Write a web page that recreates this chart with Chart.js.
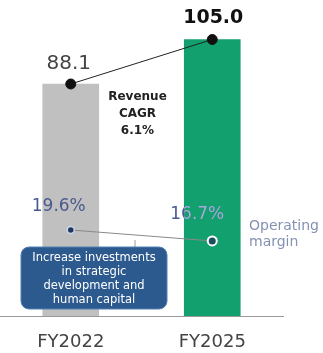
<!DOCTYPE html>
<html>
<head>
<meta charset="utf-8">
<script src="https://cdn.jsdelivr.net/npm/chart.js@4/dist/chart.umd.min.js"></script>
<style>
  html, body { margin: 0; padding: 0; background: #fff; }
  #wrap { width: 323px; height: 353px; position: relative; }
</style>
</head>
<body>
<div id="wrap"><canvas id="chart"></canvas></div>
<script>
const categories = ["FY2022", "FY2025"];
const revenue = [88.1, 105.0];
const operatingMargin = [19.6, 16.7];
const revenueLabels = ["88.1", "105.0"];
const marginLabels = ["19.6%", "16.7%"];
const cagrText = ["Revenue", "CAGR", "6.1%"];
const marginName = ["Operating", "margin"];
const noteText = ["Increase investments", "in strategic", "development and", "human capital"];

const FONT = '"DejaVu Sans", Verdana, sans-serif';

const annotations = {
  id: "annotations",
  afterDatasetsDraw(chart) {
    const { ctx, scales } = chart;
    const x = scales.x, y = scales.y, y1 = scales.y1;
    ctx.save();
    ctx.textAlign = "center";
    ctx.textBaseline = "middle";

    // revenue value labels
    ctx.fillStyle = "#444";
    ctx.font = "20px " + FONT;
    ctx.fillText(revenueLabels[0], x.getPixelForValue(0) - 2, y.getPixelForValue(revenue[0]) - 20);
    ctx.fillStyle = "#111";
    ctx.font = "bold 19px " + FONT;
    ctx.fillText(revenueLabels[1], x.getPixelForValue(1) + 1, y.getPixelForValue(revenue[1]) - 21);

    // CAGR note
    ctx.fillStyle = "#222";
    ctx.font = "bold 12px " + FONT;
    const cx = (x.getPixelForValue(0) + x.getPixelForValue(1)) / 2 - 4;
    cagrText.forEach((t, i) => ctx.fillText(t, cx, 97 + i * 17));

    // margin labels
    ctx.font = "17px " + FONT;
    ctx.fillStyle = "#4a5a8c";
    ctx.fillText(marginLabels[0], x.getPixelForValue(0) - 12, y1.getPixelForValue(operatingMargin[0]) - 23);
    const m2x = x.getPixelForValue(1) - 15, m2y = y1.getPixelForValue(operatingMargin[1]) - 26;
    ctx.fillText(marginLabels[1], m2x, m2y);
    // part of the label over the green bar is lighter
    const bar = chart.getDatasetMeta(0).data[1];
    ctx.save();
    ctx.beginPath();
    ctx.rect(bar.x - bar.width / 2, m2y - 15, bar.width, 30);
    ctx.clip();
    ctx.fillStyle = "#9fb2d6";
    ctx.fillText(marginLabels[1], m2x, m2y);
    ctx.restore();

    // series name
    ctx.textAlign = "left";
    ctx.font = "14px " + FONT;
    ctx.fillStyle = "#8391b3";
    marginName.forEach((t, i) => ctx.fillText(t, 249, 226 + i * 16));

    // connector + note box
    ctx.strokeStyle = "#9a9a9a";
    ctx.lineWidth = 1;
    ctx.beginPath();
    ctx.moveTo(135, 240);
    ctx.lineTo(135, 248);
    ctx.stroke();

    ctx.beginPath();
    ctx.roundRect(21, 247, 146, 62, 8);
    ctx.fillStyle = "#2d5a8e";
    ctx.fill();
    ctx.strokeStyle = "#5580b0";
    ctx.stroke();

    ctx.textAlign = "center";
    ctx.fillStyle = "#ffffff";
    ctx.font = "11.5px " + FONT;
    noteText.forEach((t, i) => ctx.fillText(t, 94, 258 + i * 14));
    ctx.restore();
  }
};

new Chart(document.getElementById("chart"), {
  data: {
    labels: categories,
    datasets: [
      {
        type: "bar",
        data: revenue,
        backgroundColor: ["#c0c0c0", "#12a06e"],
        barThickness: 56,
        yAxisID: "y",
        order: 3
      },
      {
        type: "line",
        data: revenue,
        borderColor: "#222",
        borderWidth: 1,
        pointRadius: 5,
        pointBackgroundColor: "#111",
        pointBorderColor: "#111",
        yAxisID: "y",
        order: 1
      },
      {
        type: "line",
        data: operatingMargin,
        borderColor: "#8a8a8a",
        borderWidth: 1,
        pointRadius: [3.5, 4.5],
        pointBorderWidth: [1.5, 2],
        pointBackgroundColor: ["#1f3563", "#1b4f5e"],
        pointBorderColor: ["#cdd6e6", "#ffffff"],
        yAxisID: "y1",
        order: 2,
        clip: false
      }
    ]
  },
  options: {
    responsive: true,
    maintainAspectRatio: false,
    animation: false,
    layout: { autoPadding: false, padding: { left: 0, right: 40, top: 0, bottom: 0 } },
    plugins: { legend: { display: false }, tooltip: { enabled: false } },
    scales: {
      x: {
        offset: true,
        grid: { display: false, drawTicks: false },
        border: { display: true, color: "#999", width: 1 },
        ticks: { color: "#444", padding: 16, font: { family: FONT, size: 18 } },
        afterFit: (scale) => { scale.height = 37; }
      },
      y: { display: false, min: 0, max: 120 },
      y1: { display: false, min: -3.1, max: 80.3 }
    }
  },
  plugins: [annotations]
});
</script>
</body>
</html>
